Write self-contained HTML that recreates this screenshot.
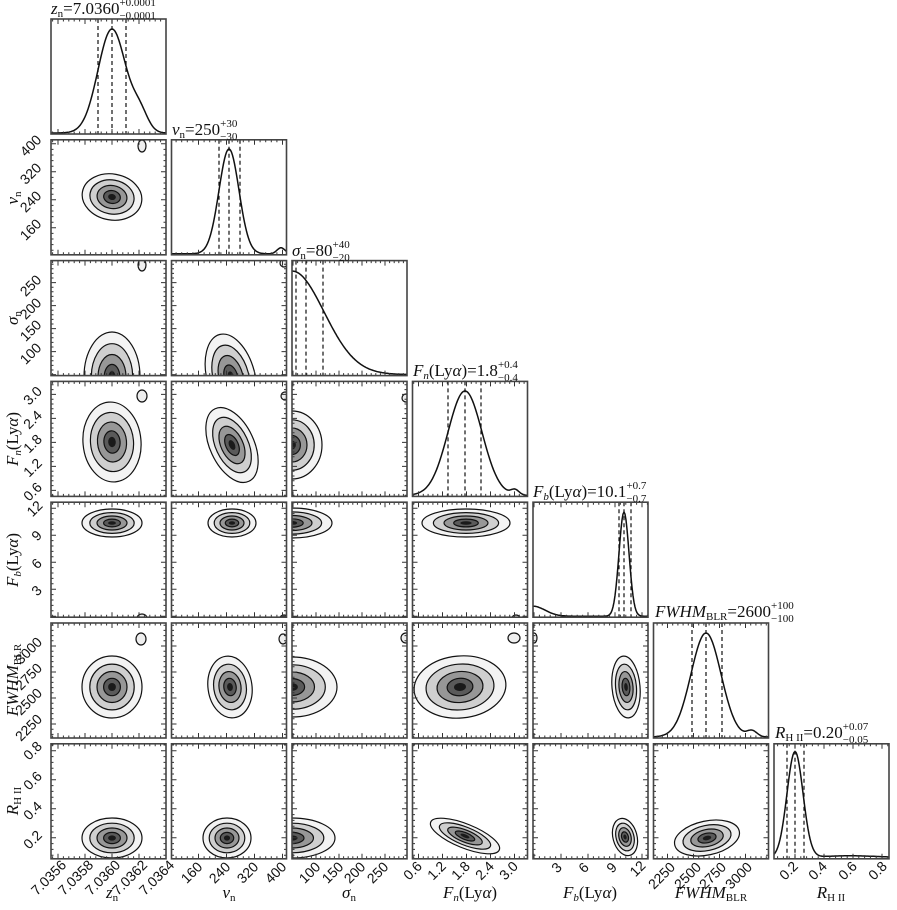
<!DOCTYPE html>
<html><head><meta charset="utf-8"><style>
html,body{margin:0;padding:0;background:#fff}
svg{display:block}
.tl{font-family:"Liberation Sans",sans-serif;font-size:14px;fill:#111}
.ti{font-family:"Liberation Serif",serif;font-size:17px;fill:#111}
.ax{font-family:"Liberation Serif",serif;font-size:17px;fill:#111}
</style></head><body>
<svg id="s" width="897" height="910" viewBox="0 0 897 910" xmlns="http://www.w3.org/2000/svg">
<g id="plots"></g>
<text class="ti" x="51" y="14"><tspan font-style="italic">z</tspan><tspan font-size="11" dy="3">n</tspan><tspan dy="-3">=7.0360</tspan><tspan font-size="11" dy="-8">+0.0001</tspan><tspan font-size="11" dx="-36.5" dy="13">−0.0001</tspan></text>
<text class="ti" x="172" y="135"><tspan font-style="italic">v</tspan><tspan font-size="11" dy="3">n</tspan><tspan dy="-3">=250</tspan><tspan font-size="11" dy="-8">+30</tspan><tspan font-size="11" dx="-17.2" dy="13">−30</tspan></text>
<text class="ti" x="292" y="256"><tspan font-style="italic">σ</tspan><tspan font-size="11" dy="3">n</tspan><tspan dy="-3">=80</tspan><tspan font-size="11" dy="-8">+40</tspan><tspan font-size="11" dx="-17.2" dy="13">−20</tspan></text>
<text class="ti" x="413" y="376"><tspan font-style="italic">F</tspan><tspan font-size="11" font-style="italic" dy="3">n</tspan><tspan dy="-3">(Ly</tspan><tspan font-style="italic">α</tspan><tspan>)=1.8</tspan><tspan font-size="11" dy="-8">+0.4</tspan><tspan font-size="11" dx="-20" dy="13">−0.4</tspan></text>
<text class="ti" x="533" y="497"><tspan font-style="italic">F</tspan><tspan font-size="11" font-style="italic" dy="3">b</tspan><tspan dy="-3">(Ly</tspan><tspan font-style="italic">α</tspan><tspan>)=10.1</tspan><tspan font-size="11" dy="-8">+0.7</tspan><tspan font-size="11" dx="-20" dy="13">−0.7</tspan></text>
<text class="ti" x="655" y="617"><tspan font-style="italic">FWHM</tspan><tspan font-size="11" dy="3">BLR</tspan><tspan dy="-3">=2600</tspan><tspan font-size="11" dy="-8">+100</tspan><tspan font-size="11" dx="-22.7" dy="13">−100</tspan></text>
<text class="ti" x="775" y="738"><tspan font-style="italic">R</tspan><tspan font-size="11" dy="3">H II</tspan><tspan dy="-3">=0.20</tspan><tspan font-size="11" dy="-8">+0.07</tspan><tspan font-size="11" dx="-25.5" dy="13">−0.05</tspan></text>
<text class="ax" transform="translate(18,198) rotate(-90)" text-anchor="middle"><tspan font-style="italic">v</tspan><tspan font-size="11" dy="3">n</tspan></text>
<text class="ax" transform="translate(18,318) rotate(-90)" text-anchor="middle"><tspan font-style="italic">σ</tspan><tspan font-size="11" dy="3">n</tspan></text>
<text class="ax" transform="translate(18,439) rotate(-90)" text-anchor="middle"><tspan font-style="italic">F</tspan><tspan font-size="11" font-style="italic" dy="3">n</tspan><tspan dy="-3">(Ly</tspan><tspan font-style="italic">α</tspan><tspan>)</tspan></text>
<text class="ax" transform="translate(18,560) rotate(-90)" text-anchor="middle"><tspan font-style="italic">F</tspan><tspan font-size="11" font-style="italic" dy="3">b</tspan><tspan dy="-3">(Ly</tspan><tspan font-style="italic">α</tspan><tspan>)</tspan></text>
<text class="ax" transform="translate(18,680) rotate(-90)" text-anchor="middle"><tspan font-style="italic">FWHM</tspan><tspan font-size="11" dy="3">BLR</tspan></text>
<text class="ax" transform="translate(18,801) rotate(-90)" text-anchor="middle"><tspan font-style="italic">R</tspan><tspan font-size="11" dy="3">H II</tspan></text>
<text class="ax" x="112" y="898" text-anchor="middle"><tspan font-style="italic">z</tspan><tspan font-size="11" dy="3">n</tspan></text>
<text class="ax" x="229" y="898" text-anchor="middle"><tspan font-style="italic">v</tspan><tspan font-size="11" dy="3">n</tspan></text>
<text class="ax" x="349" y="898" text-anchor="middle"><tspan font-style="italic">σ</tspan><tspan font-size="11" dy="3">n</tspan></text>
<text class="ax" x="470" y="898" text-anchor="middle"><tspan font-style="italic">F</tspan><tspan font-size="11" font-style="italic" dy="3">n</tspan><tspan dy="-3">(Ly</tspan><tspan font-style="italic">α</tspan><tspan>)</tspan></text>
<text class="ax" x="590" y="898" text-anchor="middle"><tspan font-style="italic">F</tspan><tspan font-size="11" font-style="italic" dy="3">b</tspan><tspan dy="-3">(Ly</tspan><tspan font-style="italic">α</tspan><tspan>)</tspan></text>
<text class="ax" x="711" y="898" text-anchor="middle"><tspan font-style="italic">FWHM</tspan><tspan font-size="11" dy="3">BLR</tspan></text>
<text class="ax" x="831" y="898" text-anchor="middle"><tspan font-style="italic">R</tspan><tspan font-size="11" dy="3">H II</tspan></text>
<g class="tl" text-anchor="middle">
<text transform="translate(34,233) rotate(-45)">160</text>
<text transform="translate(34,205) rotate(-45)">240</text>
<text transform="translate(34,177) rotate(-45)">320</text>
<text transform="translate(34,149) rotate(-45)">400</text>
<text transform="translate(34,357) rotate(-45)">100</text>
<text transform="translate(34,334) rotate(-45)">150</text>
<text transform="translate(34,312) rotate(-45)">200</text>
<text transform="translate(34,289) rotate(-45)">250</text>
<text transform="translate(36,495) rotate(-45)">0.6</text>
<text transform="translate(36,471) rotate(-45)">1.2</text>
<text transform="translate(36,447) rotate(-45)">1.8</text>
<text transform="translate(36,423) rotate(-45)">2.4</text>
<text transform="translate(36,399) rotate(-45)">3.0</text>
<text transform="translate(40,594) rotate(-45)">3</text>
<text transform="translate(40,567) rotate(-45)">6</text>
<text transform="translate(40,539) rotate(-45)">9</text>
<text transform="translate(38,512) rotate(-45)">12</text>
<text transform="translate(32,731) rotate(-45)">2250</text>
<text transform="translate(32,705) rotate(-45)">2500</text>
<text transform="translate(32,680) rotate(-45)">2750</text>
<text transform="translate(32,654) rotate(-45)">3000</text>
<text transform="translate(36,843) rotate(-45)">0.2</text>
<text transform="translate(36,814) rotate(-45)">0.4</text>
<text transform="translate(36,784) rotate(-45)">0.6</text>
<text transform="translate(36,754) rotate(-45)">0.8</text>
</g>
<g class="tl" text-anchor="middle">
<text transform="translate(52,881) rotate(-45)">7.0356</text>
<text transform="translate(79,881) rotate(-45)">7.0358</text>
<text transform="translate(106,881) rotate(-45)">7.0360</text>
<text transform="translate(133,881) rotate(-45)">7.0362</text>
<text transform="translate(160,881) rotate(-45)">7.0364</text>
<text transform="translate(195,876) rotate(-45)">160</text>
<text transform="translate(223,876) rotate(-45)">240</text>
<text transform="translate(251,876) rotate(-45)">320</text>
<text transform="translate(279,876) rotate(-45)">400</text>
<text transform="translate(313,876) rotate(-45)">100</text>
<text transform="translate(336,876) rotate(-45)">150</text>
<text transform="translate(358,876) rotate(-45)">200</text>
<text transform="translate(381,876) rotate(-45)">250</text>
<text transform="translate(416,874) rotate(-45)">0.6</text>
<text transform="translate(440,874) rotate(-45)">1.2</text>
<text transform="translate(464,874) rotate(-45)">1.8</text>
<text transform="translate(488,874) rotate(-45)">2.4</text>
<text transform="translate(512,874) rotate(-45)">3.0</text>
<text transform="translate(560,871) rotate(-45)">3</text>
<text transform="translate(587,871) rotate(-45)">6</text>
<text transform="translate(615,871) rotate(-45)">9</text>
<text transform="translate(641,872) rotate(-45)">12</text>
<text transform="translate(665,879) rotate(-45)">2250</text>
<text transform="translate(691,879) rotate(-45)">2500</text>
<text transform="translate(716,879) rotate(-45)">2750</text>
<text transform="translate(742,879) rotate(-45)">3000</text>
<text transform="translate(792,874) rotate(-45)">0.2</text>
<text transform="translate(821,874) rotate(-45)">0.4</text>
<text transform="translate(851,874) rotate(-45)">0.6</text>
<text transform="translate(881,874) rotate(-45)">0.8</text>
</g>
</svg>
<script>
(function(){
var S=115,X=[],Y=[];for(var i=0;i<7;i++){X.push(51+120.5*i);Y.push(19+120.8*i);}
var T=[[7,34,61,88,115],[27,55,83,111],[24,47,69,92],[6,30,54,78,102],[28,55,83,110],[14,40,65,91],[21,50,80,110]];
var h='<defs>';
for(var r=0;r<7;r++)for(var c=0;c<=r;c++)h+='<clipPath id="k'+r+'_'+c+'"><rect x="'+X[c]+'" y="'+Y[r]+'" width="'+S+'" height="'+S+'"/></clipPath>';
h+='</defs>';
function ticksX(c,r,t){var o='',sp=t[1]-t[0],y0=Y[r],y1=Y[r]+S;
 for(var k=-6;k<40;k++){var p=t[0]+k*sp/5;if(p<=0.5||p>=S-0.5)continue;var x=X[c]+p;var L=(k%5==0)?5:2.5;
 o+='M'+x+' '+y1+'v-'+L+'M'+x+' '+y0+'v'+L;}return o;}
function ticksY(c,r,t){var o='',sp=t[1]-t[0],x0=X[c],x1=X[c]+S;
 for(var k=-6;k<40;k++){var p=t[0]+k*sp/5;if(p<=0.5||p>=S-0.5)continue;var y=Y[r]+S-p;var L=(k%5==0)?5:2.5;
 o+='M'+x0+' '+y+'h'+L+'M'+x1+' '+y+'h-'+L;}return o;}
var E={
'1_0':[[112,197,30,23,10],[142,146,4,6,0]],
'2_0':[[112,377,28,45,0],[142,265,4,6,0]],
'2_1':[[231,377,24,44,-15],[284,263,4,4,0]],
'3_0':[[112,442,29,40,-5],[142,396,5,6,0]],
'3_1':[[232,445,22,40,-25],[285,396,4,4,0]],
'3_2':[[292,445,30,34,0],[406,398,4,4,0]],
'4_0':[[112,523,30,14,0],[142,618,5,4,0]],
'4_1':[[232,523,24,14,0],[284,618,4,3,0]],
'4_2':[[292,523,40,15,0]],
'4_3':[[466,523,44,14,0],[516,618,4,3,0]],
'5_0':[[112,687,30,31,0],[141,639,5,6,0]],
'5_1':[[230,687,22,31,-8],[283,639,4,5,0]],
'5_2':[[292,687,45,30,0],[406,638,5,5,0]],
'5_3':[[460,687,46,31,-5],[514,638,6,5,0]],
'5_4':[[626,687,14,31,-5],[534,638,3,5,0]],
'6_0':[[112,838,30,20,0]],
'6_1':[[227,838,24,20,0]],
'6_2':[[292,838,43,20,0]],
'6_3':[[465,836,37,12,22]],
'6_4':[[625,837,12,19,-15]],
'6_5':[[707,838,33,17,-12]]};
var fills=['#f3f3f3','#cfcfcf','#979797','#5a5a5a'],sc=[1,0.74,0.5,0.28];
var H=[
{p:112,s:14,t:30,d:[98,112,126],b:[[140,8,18]]},
{p:229,s:10,t:150,d:[219,229,240],b:[[281,4,6]]},
{p:292,s:32,t:272,d:[296,306,323],b:[],half:1},
{p:465,s:17,t:392,d:[448,465,481],b:[[515,4,5]]},
{p:624,s:5,t:513,d:[619,624,631],b:[[533,12,10]]},
{p:706,s:15,t:634,d:[692,706,722],b:[[752,5,6]]},
{p:795,s:8,t:753,d:[787,795,804],b:[[850,30,2]]}];
var g='';
for(var r=0;r<7;r++)for(var c=0;c<=r;c++){
 var x0=X[c],y0=Y[r];
 g+='<g clip-path="url(#k'+r+'_'+c+')">';
 if(r==c){var q=H[c],bot=y0+S,amp=bot-q.t,pts=[];
  for(var x=x0;x<=x0+S;x+=1){var u=(x-q.p)/q.s,v=q.half?(x<q.p?1:Math.exp(-u*u/2)):Math.exp(-u*u/2);
   var y=amp*v;q.b.forEach(function(b){var w=(x-b[0])/b[1];y+=b[2]*Math.exp(-w*w/2);});
   pts.push(x.toFixed(1)+','+(bot-y-1).toFixed(1));}
  g+='<polyline points="'+pts.join(' ')+'" fill="none" stroke="#111" stroke-width="1.5"/>';
  q.d.forEach(function(d){g+='<line x1="'+d+'" y1="'+y0+'" x2="'+d+'" y2="'+bot+'" stroke="#111" stroke-width="1.2" stroke-dasharray="4,3"/>';});
 } else {
  (E[r+'_'+c]||[]).forEach(function(e,idx){
   var tr=' transform="rotate('+e[4]+' '+e[0]+' '+e[1]+')"';
   if(idx>0){g+='<ellipse cx="'+e[0]+'" cy="'+e[1]+'" rx="'+e[2]+'" ry="'+e[3]+'" fill="#eee" stroke="#111" stroke-width="1.2"/>';return;}
   for(var l=0;l<4;l++)g+='<ellipse cx="'+e[0]+'" cy="'+e[1]+'" rx="'+(e[2]*sc[l]).toFixed(1)+'" ry="'+(e[3]*sc[l]).toFixed(1)+'" fill="'+fills[l]+'" stroke="#111" stroke-width="1.2"'+tr+'/>';
   g+='<ellipse cx="'+e[0]+'" cy="'+e[1]+'" rx="'+(e[2]*0.13).toFixed(1)+'" ry="'+(e[3]*0.13).toFixed(1)+'" fill="#1a1a1a"'+tr+'/>';
  });
 }
 g+='</g>';
 var tk=ticksX(c,r,T[c]);if(r!=c)tk+=ticksY(c,r,T[r]);
 g+='<path d="'+tk+'" stroke="#333" stroke-width="1" fill="none"/>';
 g+='<rect x="'+x0+'" y="'+y0+'" width="'+S+'" height="'+S+'" fill="none" stroke="#444" stroke-width="1.6"/>';
}
document.getElementById('plots').innerHTML=h+g;
})();
</script>
</body></html>
